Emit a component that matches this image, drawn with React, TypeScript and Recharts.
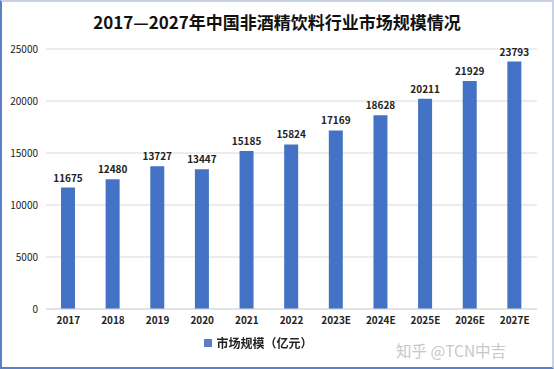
import { BarChart, Bar, XAxis, YAxis, CartesianGrid, Legend, LabelList } from "recharts";

const years = ["2017", "2018", "2019", "2020", "2021", "2022", "2023E", "2024E", "2025E", "2026E", "2027E"];
const marketSize = [11675, 12480, 13727, 13447, 15185, 15824, 17169, 18628, 20211, 21929, 23793];
const yTicks = [0, 5000, 10000, 15000, 20000, 25000];

const data = years.map((year, i) => ({ year, value: marketSize[i] }));

const FONT = "'Noto Sans CJK SC', 'Liberation Sans', sans-serif";
const BLUE = "#4472C4";

const LegendContent = () => (
  <div style={{ display: "flex", justifyContent: "center", alignItems: "center", fontFamily: FONT, fontSize: 12, fontWeight: 700, color: "#222", marginLeft: -20 }}>
    <span style={{ display: "inline-block", width: 8, height: 8, background: "#5a7cc4", marginRight: 4 }} />
    市场规模（亿元）
  </div>
);

export default function App() {
  return (
    <div style={{ position: "fixed", left: 0, top: 0, width: 554, height: 369, background: "#fff", boxSizing: "border-box", border: "2px solid #5b7fc4", borderTopColor: "#c9d3e6", borderRightColor: "#c9d3e6" }}>
      <div style={{ position: "absolute", left: 0, right: 0, top: 7, textAlign: "center", fontFamily: FONT, fontSize: 17, fontWeight: 700, color: "#111" }}>
        2017—2027年中国非酒精饮料行业市场规模情况
      </div>
      <div style={{ position: "absolute", left: 394, top: 337, fontFamily: FONT, fontSize: 15.5, color: "#c8c8c8" }}>
        知乎 @TCN中吉
      </div>
      <div style={{ position: "absolute", left: -2, top: -2 }}>
        <BarChart width={554} height={369} data={data} margin={{ top: 49, right: 17, left: 0, bottom: 15 }}>
          <CartesianGrid vertical={false} stroke="#d9d9d9" />
          <XAxis
            dataKey="year"
            tick={{ fontSize: 10, fill: "#222", fontWeight: 700, fontFamily: FONT }}
            tickLine={false}
            axisLine={{ stroke: "#d9d9d9" }}
            height={25}
            interval={0}
          />
          <YAxis
            ticks={yTicks}
            domain={[0, 25000]}
            tick={{ fontSize: 10, fill: "#222", fontFamily: FONT }}
            tickLine={false}
            axisLine={false}
            width={46}
          />
          <Legend verticalAlign="bottom" height={20} content={<LegendContent />} />
          <Bar dataKey="value" fill={BLUE} barSize={14} isAnimationActive={false}>
            <LabelList dataKey="value" position="top" offset={6} style={{ fontSize: 10, fontWeight: 700, fill: "#222", fontFamily: FONT }} />
          </Bar>
        </BarChart>
      </div>
    </div>
  );
}
